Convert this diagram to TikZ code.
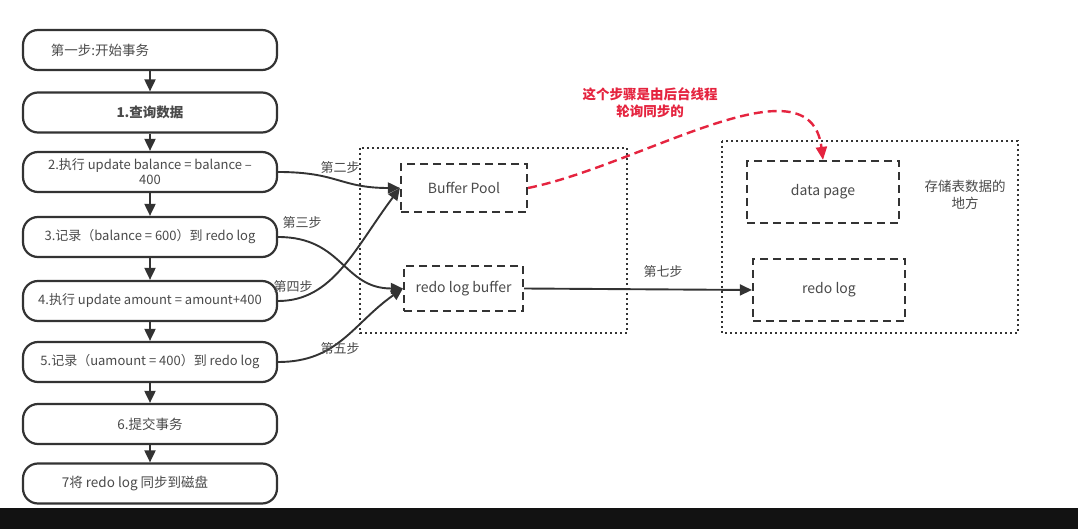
\documentclass[tikz,border=0pt]{standalone}
\usepackage{fontspec}
\setmainfont{Noto Sans CJK SC}
\usetikzlibrary{arrows.meta}
\definecolor{ink}{HTML}{333333}
\definecolor{txt}{HTML}{4A4A4A}
\definecolor{redc}{HTML}{E5243F}
\begin{document}
\begin{tikzpicture}[x=1pt,y=-1pt,
  lbl/.style={font=\fontsize{13}{15}\selectfont, text=txt, inner sep=0pt},
  stepbox/.style={draw=ink, line width=2.2pt, rounded corners=15pt, minimum width=254pt, minimum height=40pt, inner sep=0pt, align=center, lbl},
  bufbox/.style={draw=ink, line width=2.2pt, dash pattern=on 8pt off 5pt, inner sep=0pt, lbl, font=\fontsize{14}{16}\selectfont},
  zone/.style={draw=ink, line width=1.8pt, dash pattern=on 1.8pt off 3.2pt},
  flow/.style={draw=ink, line width=1.9pt, -{Triangle[length=12pt,width=11pt]}},
  redflow/.style={draw=redc, line width=2.4pt, dash pattern=on 9pt off 5pt, -{Triangle[length=13pt,width=11pt]}},
  rednote/.style={font=\fontsize{13.5}{17}\selectfont\bfseries, text=redc, align=center, inner sep=0pt}
]
\useasboundingbox (0,0) rectangle (1078,529);
\fill[white] (0,0) rectangle (1078,508);
\fill[black!93] (0,508) rectangle (1078,529);

% containers
\draw[zone] (360,148) rectangle (627,333);
\draw[zone] (722,141) rectangle (1018,333);

% left column
\node[stepbox] (s1) at (150,50) {};
\node[lbl, font=\fontsize{13.5}{15}\selectfont] (t1) at (100,50) {第一步:开始事务};
\node[stepbox, font=\fontsize{13.5}{15}\selectfont\bfseries] (s2) at (150,112.5) {1.查询数据};
\node[stepbox, font=\fontsize{13}{15}\selectfont] (s3) at (150,172) {2.执行 update balance = balance –\\400};
\node[stepbox] (s4) at (150,237) {3.记录（balance = 600）到 redo log};
\node[stepbox] (s5) at (150,301) {4.执行 update amount = amount+400};
\node[stepbox] (s6) at (150,362) {5.记录（uamount = 400）到 redo log};
\node[stepbox, font=\fontsize{13.5}{15}\selectfont] (s7) at (150,424) {6.提交事务};
\node[stepbox] (s8) at (150,483.5) {};
\node[lbl, font=\fontsize{13.5}{15}\selectfont] (t8) at (135,483.5) {7将 redo log 同步到磁盘};

\foreach \a/\b in {s1/s2,s2/s3,s3/s4,s4/s5,s5/s6,s6/s7,s7/s8}
  \draw[flow] (\a) -- (\b);

% buffers
\node[bufbox, minimum width=126pt, minimum height=48pt] (bp) at (464,188) {Buffer Pool};
\node[bufbox, minimum width=119pt, minimum height=45pt] (rb) at (463.5,288.5) {redo log buffer};
\node[bufbox, minimum width=152pt, minimum height=62pt] (dp) at (823,192) {data page};
\node[bufbox, minimum width=152pt, minimum height=62pt] (rl) at (829,290) {redo log};
\node[lbl, align=center, font=\fontsize{13.5}{17}\selectfont] (store) at (965,195) {存储表数据的\\地方};

% connectors
\draw[flow] (s3.east) .. controls +(60,0) and +(-60,0) .. (bp.west);
\draw[flow] (s4.east) .. controls +(65,0) and +(-60,0) .. (rb.west);
\draw[flow] (s5.east) .. controls +(55,0) and +(-45,60) .. (bp.west);
\draw[flow] (s6.east) .. controls +(60,0) and +(-50,35) .. (rb.west);
\draw[flow] (rb.east) -- (rl.west);

\node[lbl] (l2) at (340,168) {第二步};
\node[lbl] (l3) at (302,223) {第三步};
\node[lbl] (l4) at (293,287) {第四步};
\node[lbl] (l5) at (340,349) {第五步};
\node[lbl] (l7) at (663,272) {第七步};

% background sync
\draw[redflow] (bp.east) .. controls +(113,-23) and +(-13,-105) .. (dp.north);
\node[rednote] (note) at (650,103) {这个步骤是由后台线程\\轮询同步的};
\end{tikzpicture}
\end{document}
